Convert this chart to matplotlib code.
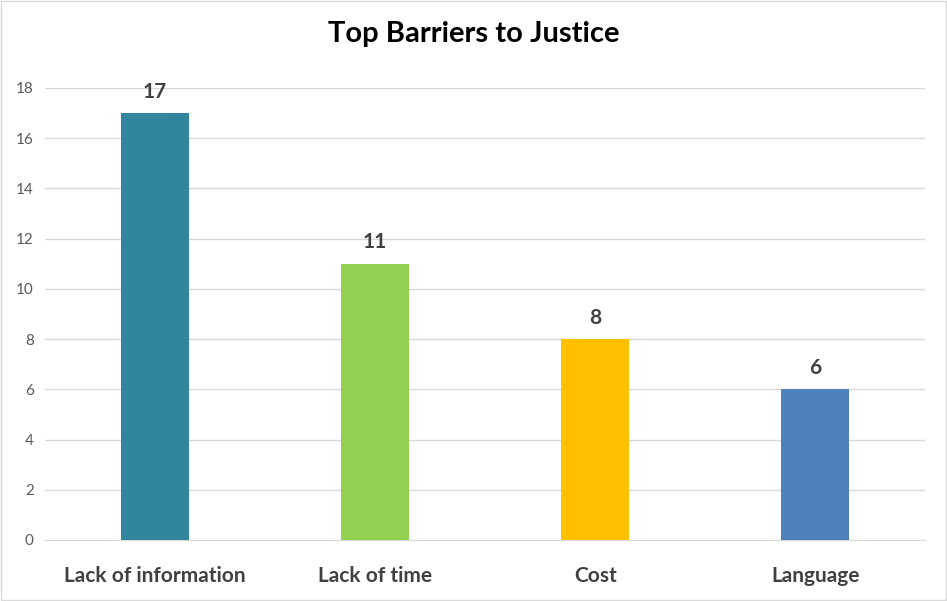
import matplotlib.pyplot as plt

plt.rcParams['font.family'] = ['Lato', 'DejaVu Sans']

categories = ["Lack of information", "Lack of time", "Cost", "Language"]
values = [17, 11, 8, 6]
colors = ["#31859C", "#92D050", "#FFC000", "#4F81BD"]
yticks = [0, 2, 4, 6, 8, 10, 12, 14, 16, 18]

fig = plt.figure(figsize=(9.47, 6.01), dpi=100)
ax = fig.add_axes([0.0475, 0.1015, 0.9295, 0.7521])

x = range(len(categories))
bars = ax.bar(x, values, width=0.31, color=colors, zorder=3)
for i, v in zip(x, values):
    ax.text(i, v + 0.45, str(v), ha="center", va="bottom",
            fontsize=15, fontweight="bold", color="#404040")

ax.set_xlim(-0.5, len(categories) - 0.5)
ax.set_ylim(0, 18)
ax.set_yticks(yticks)
ax.set_xticks(list(x))
ax.set_xticklabels(categories, fontsize=15, fontweight="bold", color="#404040")
ax.tick_params(axis="y", labelsize=11, colors="#595959", length=0, pad=8)
ax.tick_params(axis="x", length=0, pad=19)
ax.grid(axis="y", color="#D9D9D9", lw=1, zorder=0)
for s in ["top", "right", "left"]:
    ax.spines[s].set_visible(False)
ax.spines["bottom"].set_color("#D9D9D9")

fig.suptitle("Top Barriers to Justice", y=0.965, fontsize=21, fontweight="bold", color="black")
fig.patches.append(plt.Rectangle((0.001, 0.001), 0.998, 0.998, transform=fig.transFigure,
                                 fill=False, edgecolor="#D9D9D9", lw=1))
fig.savefig("out.png", dpi=100)
